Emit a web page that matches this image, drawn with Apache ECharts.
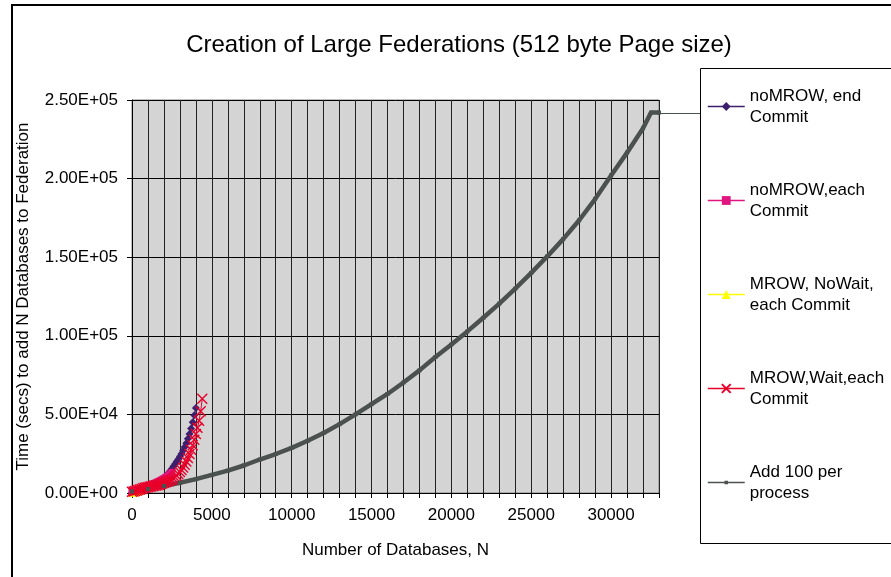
<!DOCTYPE html>
<html>
<head>
<meta charset="utf-8">
<title>Creation of Large Federations</title>
<script src="https://cdn.jsdelivr.net/npm/echarts@6/dist/echarts.min.js"></script>
<style>
  html, body { margin: 0; padding: 0; background: #ffffff; }
  #chart { width: 891px; height: 577px; }
</style>
</head>
<body>
<div id="chart"></div>
<script>
// Time to add N databases to a federation, one series per locking/commit mode.
const titleText = 'Creation of Large Federations (512 byte Page size)';
const xAxisName = 'Number of Databases, N';
const yAxisName = 'Time (secs) to add N Databases to Federation';

const seriesNames = [
  'noMROW, end\nCommit',
  'noMROW,each\nCommit',
  'MROW, NoWait,\neach Commit',
  'MROW,Wait,each\nCommit',
  'Add 100 per\nprocess'
];

// noMROW, end Commit
const endCommitN = [0,100,200,300,400,500,600,700,800,900,1000,1100,1200,1300,1400,1500,1600,1700,1800,1900,2000,
  2100,2200,2300,2400,2500,2600,2700,2800,2900,3000,3100,3200,3300,3400,3500,3600,3700,3800,3900,4000];
const endCommitT = [500,700,900,1100,1300,1600,1900,2200,2600,3000,3400,3800,4300,4800,5300,5800,6300,6900,7600,8400,9300,
  10300,11500,12800,14100,15500,17000,18500,20000,21500,23200,25000,27000,29200,31600,34500,37500,41000,45000,49500,54000];

// noMROW, each Commit
const eachCommitN = [0,100,200,300,400,500,600,700,800,900,1000,1100,1200,1300,1400,1500,1600,1700,1800,1900,2000,
  2100,2200,2300,2400,2500];
const eachCommitT = [1000,1300,1600,1900,2200,2500,2900,3300,3700,4100,4500,4900,5300,5700,6100,6500,7000,7500,8000,8600,9200,
  9800,10500,11300,12200,13200];

// MROW, NoWait, each Commit
const noWaitN = [0,100,200,300,400,500];
const noWaitT = [200,400,600,800,1000,1300];

// MROW, Wait, each Commit
const waitN = [0,100,200,300,400,500,600,700,800,900,1000,1100,1200,1300,1400,1500,1600,1700,1800,1900,2000,
  2100,2200,2300,2400,2500,2600,2700,2800,2900,3000,3100,3200,3300,3400,3500,3600,3700,3800,3900,4000,
  4100,4200,4300,4400];
const waitT = [800,1000,1300,1600,1900,2300,2600,3000,3300,3500,3700,3900,4100,4400,4600,4800,5000,5300,5700,6100,6500,
  6900,7300,7700,8100,8500,9200,10000,11000,12100,13400,14700,16200,18000,20000,22300,24800,27500,30300,33800,37500,
  41500,46000,52000,60000];

// Add 100 per process
const perProcessN = [0,1000,2000,3000,4000,5000,6000,7000,8000,9000,10000,11000,12000,13000,14000,15000,16000,
  17000,18000,19000,20000,21000,22000,23000,24000,25000,26000,27000,28000,29000,30000,31000,32000,32500,33000];
const perProcessT = [1000,2500,4500,6500,8800,11500,14200,17500,21300,24800,28700,33200,38200,43800,50000,56500,63000,
  70300,78000,86500,94500,102800,111500,120500,130000,140000,150500,161500,173500,187000,202000,216500,232000,242000,242000];

// Axis ranges and tick steps
const xMin = 0, xMax = 33000, xStep = 1000, xLabelStep = 5000;
const yMin = 0, yMax = 250000, yStep = 50000;

const FONT = '"Liberation Sans", Arial, sans-serif';

function pairs(xs, ys) { return xs.map((x, i) => [x, ys[i]]); }

// 2.50E+05 style labels
function sci(v) {
  const [m, e] = Number(v).toExponential(2).split('e');
  const sign = e[0] === '-' ? '-' : '+';
  const digits = e.replace(/[+-]/, '').padStart(2, '0');
  return m + 'E' + sign + digits;
}

const colors = ['#3d1f6e', '#e0157f', '#ffff00', '#e8002a', '#4b514e'];

// Small square centred in a larger empty box, so the marker stays small in the legend too.
const smallSquare = 'path://M0,0L0,0M10,10L10,10M3,3L7,3L7,7L3,7Z';
const crossMark = 'path://M0,0L10,10M10,0L0,10';

const chart = echarts.init(document.getElementById('chart'), null, { renderer: 'canvas' });

const grid = { left: 132, top: 100, width: 527, height: 393 };

const option = {
  animation: false,
  backgroundColor: '#ffffff',
  textStyle: { fontFamily: FONT },
  title: {
    text: titleText,
    left: 454,
    top: 28,
    textAlign: 'center',
    textStyle: { fontFamily: FONT, fontSize: 24, fontWeight: 'normal', color: '#000' }
  },
  grid: Object.assign({
    show: true,
    backgroundColor: '#d4d4d4',
    borderColor: '#808080',
    borderWidth: 1
  }, grid),
  legend: {
    orient: 'vertical',
    left: 707,
    top: 75,
    padding: 0,
    itemWidth: 37,
    itemHeight: 11,
    itemGap: 31,
    data: seriesNames,
    lineStyle: { width: 1.5 },
    textStyle: {
      fontFamily: FONT,
      fontSize: 17,
      lineHeight: 21,
      color: '#000',
      padding: [21, 0, 0, 0]
    },
    selectedMode: false
  },
  xAxis: {
    type: 'value',
    min: xMin,
    max: xMax,
    interval: xStep,
    name: xAxisName,
    nameLocation: 'middle',
    nameGap: 49,
    nameTextStyle: { fontFamily: FONT, fontSize: 17, color: '#000' },
    axisLine: { show: true, lineStyle: { color: '#000', width: 1 } },
    axisTick: { show: true, length: 5, lineStyle: { color: '#000' } },
    axisLabel: {
      margin: 14,
      fontFamily: FONT,
      fontSize: 17,
      color: '#000',
      formatter: v => (v % xLabelStep === 0 ? String(v) : '')
    },
    splitLine: { show: true, lineStyle: { color: '#222', width: 1 } }
  },
  yAxis: {
    type: 'value',
    min: yMin,
    max: yMax,
    interval: yStep,
    name: yAxisName,
    nameLocation: 'middle',
    nameGap: 100,
    nameTextStyle: { fontFamily: FONT, fontSize: 17, color: '#000' },
    axisLine: { show: true, lineStyle: { color: '#000', width: 1 } },
    axisTick: { show: true, length: 5, lineStyle: { color: '#000' } },
    axisLabel: {
      margin: 14,
      fontFamily: FONT,
      fontSize: 17,
      color: '#000',
      formatter: sci
    },
    splitLine: { show: true, lineStyle: { color: '#000', width: 1 } }
  },
  series: [
    {
      name: seriesNames[0], type: 'line', data: pairs(endCommitN, endCommitT),
      symbol: 'diamond', symbolSize: 8,
      lineStyle: { color: colors[0], width: 1 },
      itemStyle: { color: colors[0], borderWidth: 0 }
    },
    {
      name: seriesNames[1], type: 'line', data: pairs(eachCommitN, eachCommitT),
      symbol: 'rect', symbolSize: 7,
      lineStyle: { color: colors[1], width: 1 },
      itemStyle: { color: colors[1], borderWidth: 0 }
    },
    {
      name: seriesNames[2], type: 'line', data: pairs(noWaitN, noWaitT),
      symbol: 'triangle', symbolSize: 8,
      lineStyle: { color: colors[2], width: 1 },
      itemStyle: { color: colors[2], borderWidth: 0 }
    },
    {
      name: seriesNames[3], type: 'line', data: pairs(waitN, waitT),
      symbol: crossMark, symbolSize: 10,
      lineStyle: { color: colors[3], width: 1 },
      itemStyle: { color: colors[3], borderColor: colors[3], borderWidth: 1.4 }
    },
    {
      name: seriesNames[4], type: 'line', data: pairs(perProcessN, perProcessT),
      symbol: smallSquare, symbolSize: 10,
      lineStyle: { color: colors[4], width: 4.5 },
      itemStyle: { color: colors[4], borderWidth: 0 }
    }
  ].map(s => Object.assign(s, { showSymbol: true, emphasis: { disabled: true }, silent: true }))
};

chart.setOption(option);

// Frame around the chart, the legend box, and the leader line from the last point of
// the "Add 100 per process" series to the legend.
const lastT = perProcessT[perProcessT.length - 1];
const leaderStart = chart.convertToPixel({ gridIndex: 0 }, [xMax, lastT]);
const legendBoxLeft = 700;

chart.setOption({
  graphic: [
    {
      type: 'rect', silent: true, z: -1,
      shape: { x: 12, y: 5, width: 900, height: 600 },
      style: { fill: 'none', stroke: '#000', lineWidth: 2 }
    },
    {
      type: 'rect', silent: true,
      shape: { x: legendBoxLeft + 0.5, y: 68.5, width: 220, height: 475 },
      style: { fill: 'none', stroke: '#000', lineWidth: 1 }
    },
    {
      type: 'line', silent: true,
      shape: { x1: leaderStart[0], y1: Math.round(leaderStart[1]) + 0.5, x2: legendBoxLeft, y2: Math.round(leaderStart[1]) + 0.5 },
      style: { stroke: colors[4], lineWidth: 1 }
    }
  ]
});
</script>
</body>
</html>
